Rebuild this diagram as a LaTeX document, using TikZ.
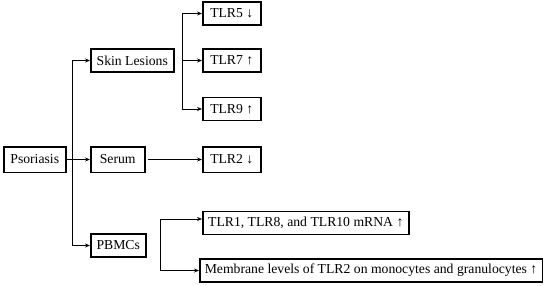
\documentclass[tikz,border=0pt]{standalone}
\usepackage{fontspec}
\setmainfont{Liberation Serif}
\usetikzlibrary{arrows.meta,positioning}
\tikzset{
  tlrbox/.style={draw, line width=1.5pt, minimum height=23pt, inner xsep=5pt,
    inner ysep=2pt, font=\fontsize{13.7}{15}\selectfont, anchor=west},
  midrow/.style={minimum height=25.5pt},
  short/.style={minimum width=58pt},
  flow/.style={-{Stealth[length=5pt,width=4pt]}, line width=0.7pt},
}
\begin{document}
\begin{tikzpicture}[x=1pt,y=-1pt]
\useasboundingbox (0,0) rectangle (549,285);

% Root and the three sample sources.
\node[tlrbox, midrow, minimum width=62pt] (pso) at (3,159.5) {Psoriasis};
\node[tlrbox, minimum width=83pt] (skin) at (90,60.5) {Skin Lesions};
\node[tlrbox, midrow, minimum width=54pt] (serum) at (90,159.5) {Serum};
\node[tlrbox, minimum width=55pt] (pbmc) at (90,245.5) {PBMCs};

\coordinate (trunk) at (72,159.5);
\draw[line width=0.7pt] (pso.east) -- (trunk);
\draw[flow] (trunk) |- (skin.west);
\draw[flow] (trunk) -- (serum.west);
\draw[flow] (trunk) |- (pbmc.west);

% Skin lesions.
\node[tlrbox, short] (tlr5) at (202,13.5) {TLR5 ↓};
\node[tlrbox, short] (tlr7) at (202,60.5) {TLR7 ↑};
\node[tlrbox, short] (tlr9) at (202,109) {TLR9 ↑};

\coordinate (sk) at (182,60.5);
\draw[flow] (sk) |- (tlr5.west);
\draw[flow] (sk) -- (tlr7.west);
\draw[flow] (sk) |- (tlr9.west);

% Serum.
\node[tlrbox, short, midrow] (tlr2) at (202,159.5) {TLR2 ↓};
\draw[flow] ([xshift=2pt]serum.east) -- (tlr2.west);

% PBMCs.
\node[tlrbox, minimum width=206pt] (mrna) at (202,223) {TLR1, TLR8, and TLR10 mRNA ↑};
\node[tlrbox] (memb) at (199,270.5) {Membrane levels of TLR2 on monocytes and granulocytes ↑};

\coordinate (pb) at (160,219);
\draw[flow] (pb) -- (pb -| mrna.west);
\draw[flow] (pb) |- (memb.west);

\end{tikzpicture}
\end{document}
